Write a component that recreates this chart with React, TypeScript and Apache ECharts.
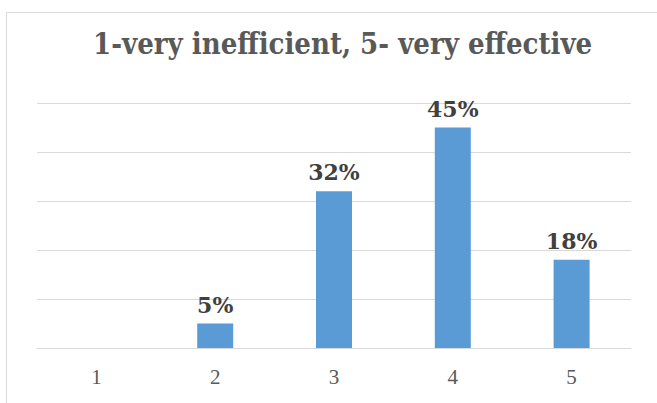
import React, { useEffect, useRef } from "react";
import * as echarts from "echarts";

const categories = ["1", "2", "3", "4", "5"];
const values = [0, 5, 32, 45, 18];
const titleText = "1-very inefficient, 5- very effective";

export default function App() {
  const ref = useRef<HTMLDivElement>(null);
  useEffect(() => {
    if (!ref.current) return;
    const chart = echarts.init(ref.current, null, { renderer: "svg" });
    chart.setOption({
      animation: false,
      backgroundColor: "#ffffff",
      title: {
        text: titleText,
        left: 88,
        top: 24,
        textStyle: {
          fontFamily: "DejaVu Serif Condensed, DejaVu Serif, serif",
          fontSize: 29,
          fontWeight: "bold",
          color: "#595959",
        },
      },
      graphic: [
        {
          type: "rect",
          shape: { x: 6.5, y: 12.5, width: 700, height: 450 },
          style: { fill: "none", stroke: "#d9d9d9", lineWidth: 1 },
          silent: true,
        },
      ],
      grid: { left: 37, right: 26, top: 103, bottom: 55 },
      xAxis: {
        type: "category",
        data: categories,
        axisLine: { lineStyle: { color: "#d9d9d9", width: 1 } },
        axisTick: { show: false },
        axisLabel: {
          fontFamily: "Liberation Serif, DejaVu Serif, serif",
          fontSize: 21,
          color: "#595959",
          margin: 18,
        },
      },
      yAxis: {
        type: "value",
        min: 0,
        max: 50,
        interval: 10,
        axisLabel: { show: false },
        axisLine: { show: false },
        axisTick: { show: false },
        splitLine: { lineStyle: { color: "#d9d9d9", width: 1 } },
      },
      series: [
        {
          type: "bar",
          data: values.map((v) => (v === 0 ? { value: v, label: { show: false } } : v)),
          barWidth: 36,
          itemStyle: { color: "#5b9bd5" },
          label: {
            show: true,
            position: "top",
            distance: 8,
            formatter: "{c}%",
            fontFamily: "DejaVu Serif, serif",
            fontSize: 22,
            fontWeight: "bold",
            color: "#404040",
          },
        },
      ],
    });
    return () => chart.dispose();
  }, []);
  return (
    <div
      ref={ref}
      style={{ position: "fixed", left: 0, top: 0, width: 657, height: 403 }}
    />
  );
}
